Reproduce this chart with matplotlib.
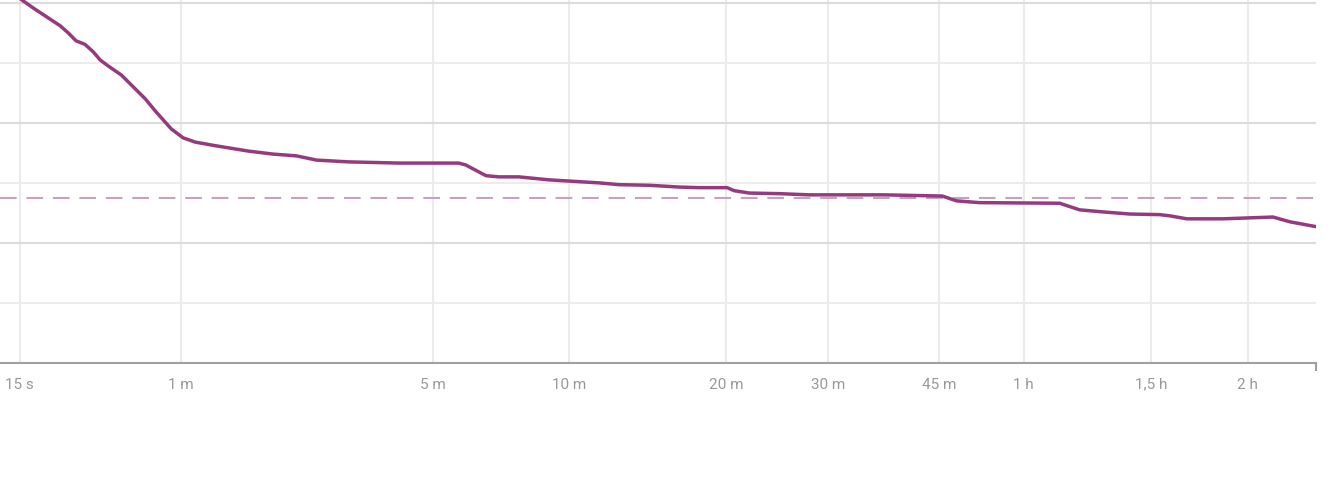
import numpy as np
import matplotlib
matplotlib.use("Agg")
import matplotlib.pyplot as plt

# duration in seconds, value in arbitrary units
secs = [13.6, 15.1, 17.1, 19.8, 22.1, 23.8, 25.5, 27.6, 29.6, 31.5, 33.7, 37.6,
        42.1, 45.7, 49.4, 55.9, 61.2, 66.9, 77.4, 97.5, 115, 134, 152, 185, 248,
        344, 357, 397, 424, 469, 544, 689, 755, 863, 984, 1072, 1205, 1240,
        1319, 1487, 1673, 2218, 2730, 2867, 3104, 4052, 4321, 4605, 5059, 5547,
        5718, 6019, 6697, 7738, 8121, 8734]
vals = [617, 607, 592, 575, 562, 550, 537, 531, 519, 505, 495, 480, 457, 440,
        420, 390, 375, 368, 362, 353, 348, 345, 338, 335, 333, 333, 330, 312,
        310, 310, 305, 300, 297, 296, 293, 292, 292, 287, 283, 282, 280, 280,
        278, 270, 267, 266, 255, 252, 248, 247, 245, 240, 240, 243, 235, 227]
ref_val = 275

tick_secs = [15, 60, 300, 600, 1200, 1800, 2700, 3600, 5400, 7200]
tick_labels = ["15 s", "1 m", "5 m", "10 m", "20 m", "30 m", "45 m", "1 h", "1,5 h", "2 h"]

xmin, xmax = 12.3, 8734
ymin, ymax = 0, 606.7

fig = plt.figure(figsize=(13.31, 4.85), dpi=100)
ax = fig.add_axes([0, 121.3 / 485, 1316 / 1331, 363.7 / 485])

fwd = lambda t: np.sign(t) * np.abs(t) ** 0.2
inv = lambda u: np.sign(u) * np.abs(u) ** 5
ax.set_xscale("function", functions=(fwd, inv))
ax.set_xlim(xmin, xmax)
ax.set_ylim(ymin, ymax)

ax.axhline(ref_val, color="#c9a1c0", lw=1.5, dashes=(8, 4.7), zorder=2)
ax.plot(secs, vals, color="#963a7e", lw=2.5, solid_joinstyle="round",
        solid_capstyle="round", zorder=3)

ax.set_xticks(tick_secs)
ax.set_xticklabels(tick_labels, fontfamily="Roboto", fontsize=11, color="#999999")
for lab in ax.get_xticklabels():
    lab.set_verticalalignment("baseline")
ax.set_xticks([xmax], minor=True)
ax.tick_params(axis="x", which="major", length=0, pad=18)
ax.tick_params(axis="x", which="minor", length=6, width=1.5, color="#a0a0a0")
ax.xaxis.grid(True, which="major", color="#ebebeb", lw=1.5)

ax.set_yticks([200, 400, 600])
ax.set_yticks([100, 300, 500], minor=True)
ax.tick_params(axis="y", which="both", length=0, labelleft=False)
ax.yaxis.grid(True, which="major", color="#dcdcdc", lw=1.5)
ax.yaxis.grid(True, which="minor", color="#ececec", lw=1.5)
ax.set_axisbelow(True)

for s in ["top", "right", "left"]:
    ax.spines[s].set_visible(False)
ax.spines["bottom"].set_color("#a0a0a0")
ax.spines["bottom"].set_linewidth(1.5)

fig.savefig("out.png", dpi=100, facecolor="white")
